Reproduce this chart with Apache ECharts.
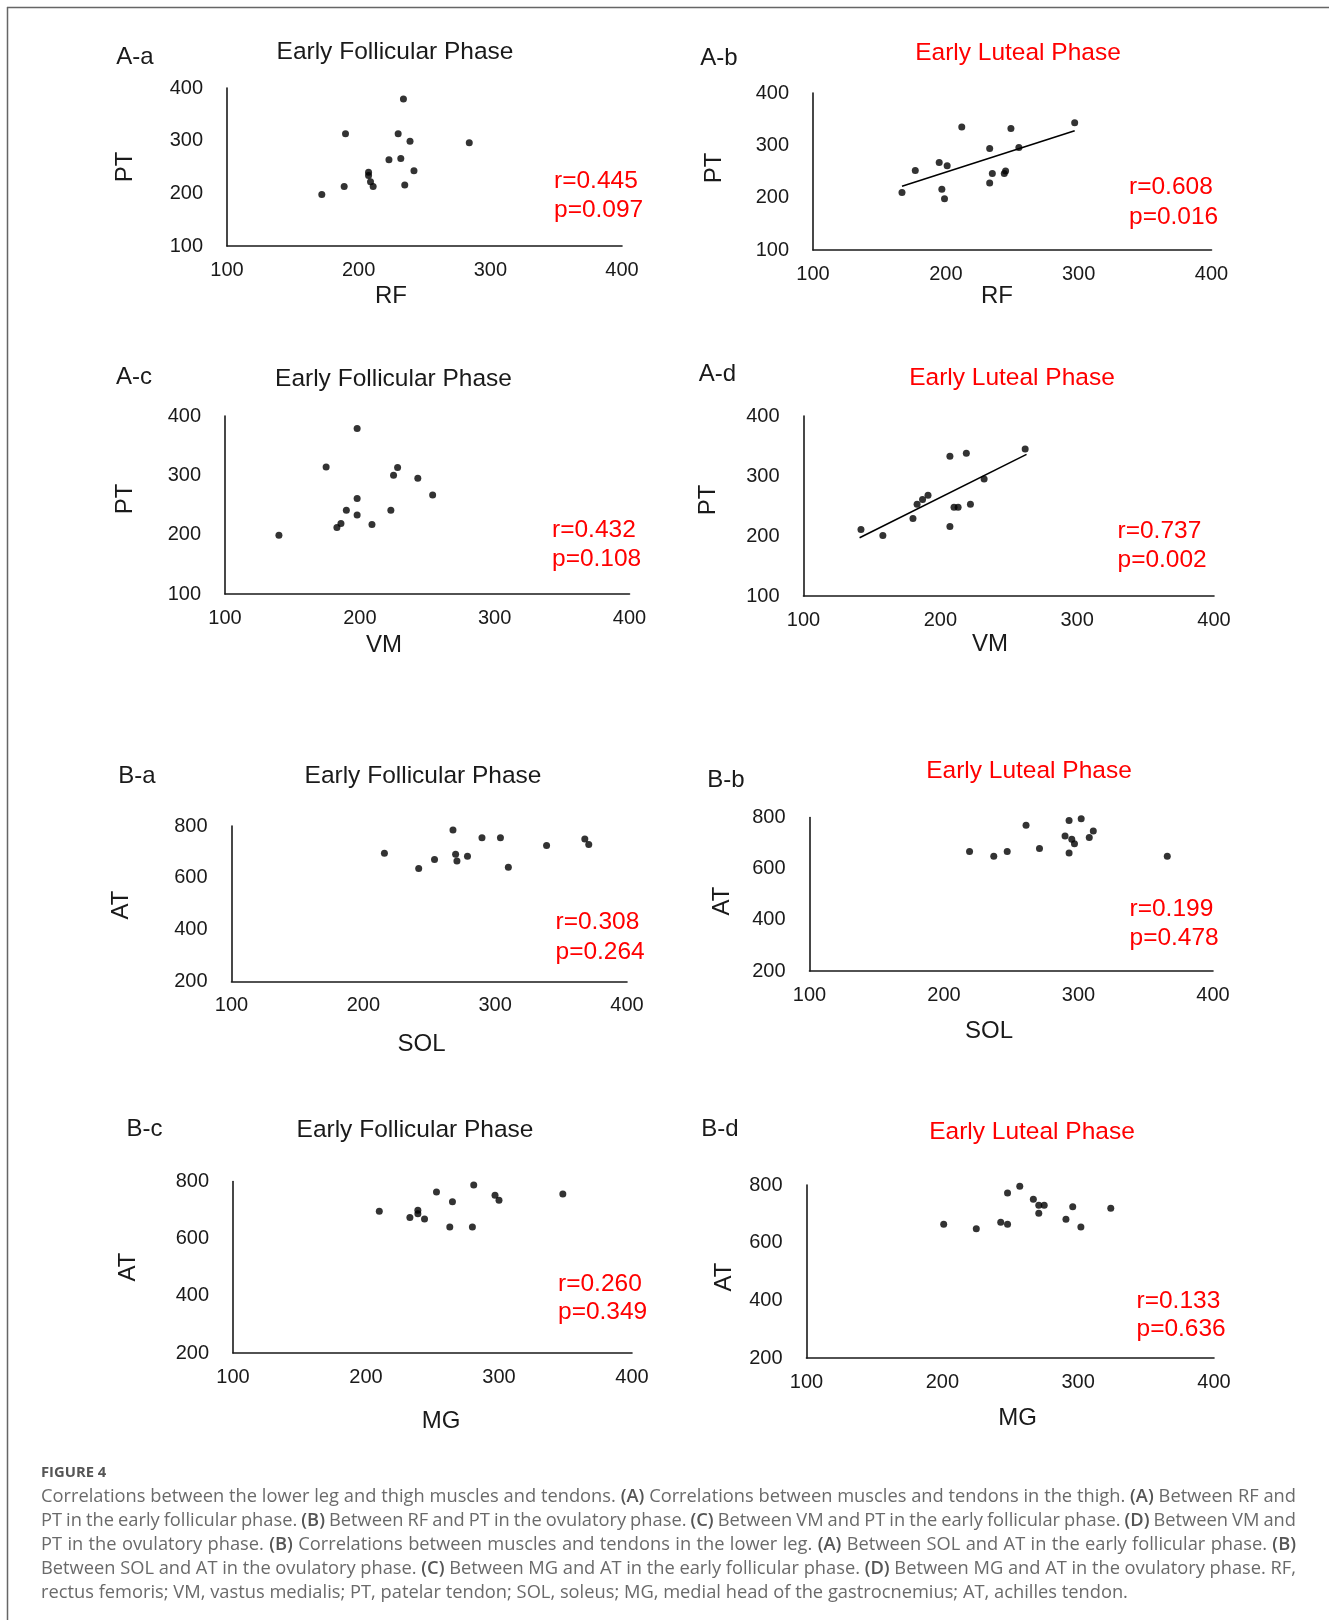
<!DOCTYPE html>
<html>
<head>
<meta charset="utf-8">
<script src="https://cdn.jsdelivr.net/npm/echarts@6/dist/echarts.min.js"></script>
<style>
html,body{margin:0;padding:0;background:#fff;}
#wrap{position:relative;width:1329px;height:1620px;}
#chart{position:absolute;left:0;top:0;width:1329px;height:1620px;}
#caption{position:absolute;left:41px;top:1459px;width:1255px;font-family:"Open Sans","Noto Sans",sans-serif;color:#6a6a6a;}
#caption .head{font-size:14.8px;font-weight:bold;color:#555;line-height:24px;height:24px;}
#caption .ln{font-size:18.3px;line-height:23.9px;height:23.9px;white-space:nowrap;word-spacing:-3px;text-align:justify;text-align-last:justify;}
#caption .ln.last{text-align:left;text-align-last:left;word-spacing:0;}
#caption b{color:#555;font-weight:600;}
</style>
</head>
<body>
<div id="wrap">
<div id="chart"></div>
<div id="caption"></div>
</div>
<script>
// ---------- DATA ----------
const panelIds = ['A-a', 'A-b', 'A-c', 'A-d', 'B-a', 'B-b', 'B-c', 'B-d'];
const panelTitles = ['Early Follicular Phase', 'Early Luteal Phase', 'Early Follicular Phase', 'Early Luteal Phase',
                     'Early Follicular Phase', 'Early Luteal Phase', 'Early Follicular Phase', 'Early Luteal Phase'];
const xNames = ['RF', 'RF', 'VM', 'VM', 'SOL', 'SOL', 'MG', 'MG'];
const yNames = ['PT', 'PT', 'PT', 'PT', 'AT', 'AT', 'AT', 'AT'];
const rValues = ['0.445', '0.608', '0.432', '0.737', '0.308', '0.199', '0.260', '0.133'];
const pValues = ['0.097', '0.016', '0.108', '0.002', '0.264', '0.478', '0.349', '0.636'];

const xTicksAll = [100, 200, 300, 400];
const yTicksA = [100, 200, 300, 400];
const yTicksB = [200, 400, 600, 800];

// A-a  RF vs PT, early follicular
const aaX = [172, 189, 190, 207.5, 207.5, 209, 211, 223, 230, 232, 234, 235, 239, 242, 284];
const aaY = [198, 213, 313, 240, 234, 222, 213, 264, 313, 266, 379, 216, 299, 243, 296];
// A-b  RF vs PT, early luteal
const abX = [167, 177, 195, 197, 199, 201, 212, 233, 233, 235, 244, 245, 249, 255, 297];
const abY = [210, 252, 267, 216, 198, 261, 335, 228, 294, 246, 246, 251, 332, 296, 343];
const abTrendX = [167, 297];
const abTrendY = [222, 328];
// A-c  VM vs PT, early follicular
const acX = [140, 175, 183, 186, 190, 198, 198, 198, 209, 223, 225, 228, 243, 254];
const acY = [199, 314, 212, 219, 241, 379, 261, 233, 217, 241, 300, 313, 295, 267];
// A-d  VM vs PT, early luteal
const adX = [142, 158, 180, 183, 187, 191, 207, 207, 210, 213, 219, 222, 232, 262];
const adY = [211, 201, 229, 253, 261, 268, 216, 333, 248, 248, 338, 253, 295, 345];
const adTrendX = [141, 263];
const adTrendY = [197, 336];
// B-a  SOL vs AT, early follicular
const baX = [216, 242, 254, 268, 270, 271, 279, 290, 304, 310, 339, 368, 371];
const baY = [695, 636, 671, 785, 691, 665, 683, 755, 755, 641, 725, 750, 729];
// B-b  SOL vs AT, early luteal
const bbX = [219, 237, 247, 261, 271, 290, 293, 293, 295, 297, 302, 308, 311, 366];
const bbY = [667, 649, 667, 770, 679, 728, 788, 661, 715, 697, 795, 722, 747, 649];
// B-c  MG vs AT, early follicular
const bcX = [210, 233, 239, 239, 244, 253, 263, 265, 280, 281, 297, 300, 348];
const bcY = [696, 674, 699, 687, 669, 763, 641, 729, 641, 788, 752, 734, 756];
// B-d  MG vs AT, early luteal
const bdX = [201, 225, 243, 248, 248, 257, 267, 271, 271, 275, 291, 296, 302, 324];
const bdY = [664, 648, 671, 772, 664, 796, 751, 730, 702, 730, 681, 725, 654, 719];

const captionHead = 'FIGURE 4';
const captionLines = [
  'Correlations between the lower leg and thigh muscles and tendons. (A) Correlations between muscles and tendons in the thigh. (A) Between RF and',
  'PT in the early follicular phase. (B) Between RF and PT in the ovulatory phase. (C) Between VM and PT in the early follicular phase. (D) Between VM and',
  'PT in the ovulatory phase. (B) Correlations between muscles and tendons in the lower leg. (A) Between SOL and AT in the early follicular phase. (B)',
  'Between SOL and AT in the ovulatory phase. (C) Between MG and AT in the early follicular phase. (D) Between MG and AT in the ovulatory phase. RF,',
  'rectus femoris; VM, vastus medialis; PT, patelar tendon; SOL, soleus; MG, medial head of the gastrocnemius; AT, achilles tendon.'
];

// ---------- LAYOUT (positions only) ----------
const layout = [
  {grid:[227, 88, 395, 158], id:[135, 57], title:[395, 52], xn:[391, 296], yn:[125, 167], r:[554, 181], p:[554, 210]},
  {grid:[813, 93, 398.5, 157], id:[719, 58], title:[1018, 53.5], xn:[997, 296], yn:[714, 168], r:[1129, 187], p:[1129, 217]},
  {grid:[225, 416, 404.5, 178], id:[134, 377], title:[393.5, 379], xn:[384, 645], yn:[125, 499], r:[552, 530], p:[552, 559]},
  {grid:[803.5, 416, 410.5, 180], id:[717.5, 374], title:[1012, 378], xn:[990, 644], yn:[708, 500], r:[1117.5, 531], p:[1117.5, 560]},
  {grid:[231.5, 826, 395.5, 155.5], id:[137, 776], title:[423, 776], xn:[421.5, 1044], yn:[121.5, 905], r:[555.5, 922], p:[555.5, 952]},
  {grid:[809.5, 817.5, 403.5, 153.5], id:[726, 780], title:[1029, 771], xn:[989, 1031], yn:[722, 901], r:[1129.5, 909], p:[1129.5, 938]},
  {grid:[233, 1181.5, 399, 171.5], id:[144.5, 1129], title:[415, 1130], xn:[441, 1421], yn:[128, 1267], r:[558, 1284], p:[558, 1312]},
  {grid:[806.5, 1185, 407.5, 173], id:[720, 1129], title:[1032, 1132], xn:[1017.5, 1418], yn:[724.5, 1277], r:[1136.5, 1301], p:[1136.5, 1329]}
];

const xsAll = [aaX, abX, acX, adX, baX, bbX, bcX, bdX];
const ysAll = [aaY, abY, acY, adY, baY, bbY, bcY, bdY];
const trends = {1: [abTrendX, abTrendY], 3: [adTrendX, adTrendY]};

const FONT = '"Liberation Sans", Arial, sans-serif';
const INK = '#1a1a1a';
const RED = '#ff0000';

const grids = [], xAxes = [], yAxes = [], series = [], graphics = [];

layout.forEach((L, i) => {
  grids.push({left: L.grid[0], top: L.grid[1], width: L.grid[2], height: L.grid[3], containLabel: false});
  const yt = i < 4 ? yTicksA : yTicksB;
  xAxes.push({
    type: 'value', gridIndex: i, min: xTicksAll[0], max: xTicksAll[xTicksAll.length - 1],
    interval: xTicksAll[1] - xTicksAll[0],
    axisLine: {show: true, onZero: false, lineStyle: {color: INK, width: 1.6}},
    axisTick: {show: false}, splitLine: {show: false},
    axisLabel: {color: INK, fontFamily: FONT, fontSize: 20, margin: 14}
  });
  yAxes.push({
    type: 'value', gridIndex: i, min: yt[0], max: yt[yt.length - 1], interval: yt[1] - yt[0],
    axisLine: {show: true, onZero: false, lineStyle: {color: INK, width: 1.6}},
    axisTick: {show: false}, splitLine: {show: false},
    axisLabel: {color: INK, fontFamily: FONT, fontSize: 20, margin: 24}
  });
  series.push({
    type: 'scatter', xAxisIndex: i, yAxisIndex: i, symbolSize: 7,
    itemStyle: {color: '#000'},
    data: xsAll[i].map((x, k) => [x, ysAll[i][k]]),
    silent: true
  });
  if (trends[i]) {
    const [tx, ty] = trends[i];
    series.push({
      type: 'line', xAxisIndex: i, yAxisIndex: i, showSymbol: false, symbol: 'none',
      lineStyle: {color: '#000', width: 1.6}, z: 1, silent: true,
      data: tx.map((x, k) => [x, ty[k]])
    });
  }
  const luteal = panelTitles[i].indexOf('Luteal') >= 0;
  graphics.push({type: 'text', x: L.id[0], y: L.id[1],
    style: {text: panelIds[i], fill: INK, font: '24px ' + FONT, textAlign: 'center', textVerticalAlign: 'middle'}});
  graphics.push({type: 'text', x: L.title[0], y: L.title[1],
    style: {text: panelTitles[i], fill: luteal ? RED : INK, font: '24.5px ' + FONT, textAlign: 'center', textVerticalAlign: 'middle'}});
  graphics.push({type: 'text', x: L.xn[0], y: L.xn[1],
    style: {text: xNames[i], fill: INK, font: '24px ' + FONT, textAlign: 'center', textVerticalAlign: 'middle'}});
  graphics.push({type: 'text', x: L.yn[0], y: L.yn[1], rotation: Math.PI / 2,
    style: {text: yNames[i], fill: INK, font: '24px ' + FONT, textAlign: 'center', textVerticalAlign: 'middle'}});
  graphics.push({type: 'text', x: L.r[0], y: L.r[1],
    style: {text: 'r=' + rValues[i], fill: RED, font: '24.5px ' + FONT, textAlign: 'left', textVerticalAlign: 'middle'}});
  graphics.push({type: 'text', x: L.p[0], y: L.p[1],
    style: {text: 'p=' + pValues[i], fill: RED, font: '24.5px ' + FONT, textAlign: 'left', textVerticalAlign: 'middle'}});
});

// frame
graphics.push({type: 'line', shape: {x1: 7.5, y1: 7, x2: 7.5, y2: 1620}, style: {stroke: '#666', lineWidth: 1.5}});
graphics.push({type: 'line', shape: {x1: 7, y1: 7.5, x2: 1329, y2: 7.5}, style: {stroke: '#666', lineWidth: 1.5}});

const chart = echarts.init(document.getElementById('chart'), null, {renderer: 'canvas', width: 1329, height: 1620});
chart.setOption({
  animation: false,
  backgroundColor: '#fff',
  grid: grids, xAxis: xAxes, yAxis: yAxes, series: series,
  graphic: graphics
});

// caption (real text, justified lines as in the reference)
const esc = s => s.replace(/&/g, '&amp;').replace(/</g, '&lt;');
const cap = document.getElementById('caption');
let html = '<div class="head">' + esc(captionHead) + '</div>';
captionLines.forEach((line, k) => {
  const t = esc(line).replace(/\(([A-D])\)/g, '<b>($1)</b>');
  html += '<div class="ln' + (k === captionLines.length - 1 ? ' last' : '') + '">' + t + '</div>';
});
cap.innerHTML = html;
</script>
</body>
</html>
